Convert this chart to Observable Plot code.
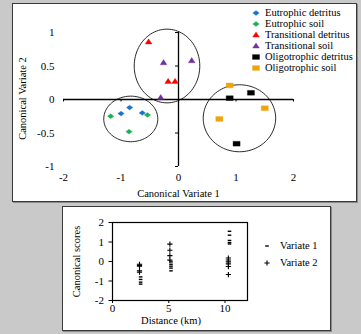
<!DOCTYPE html>
<html><head><meta charset="utf-8">
<script src="https://cdn.jsdelivr.net/npm/d3@7"></script>
<script src="https://cdn.jsdelivr.net/npm/@observablehq/plot@0.6"></script>
<style>
body{margin:0;background:#c9c9c9;}
#page{position:relative;width:361px;height:334px;background:#c9c9c9;overflow:hidden;font-family:"Liberation Serif","Times New Roman",serif;color:#000;}
.box{position:absolute;background:#fff;border:1px solid #3a3a3a;box-shadow:1px 1px 0 #8a8a8a;}
#top{left:12px;top:3px;width:343px;height:197px;}
#bot{left:62px;top:206px;width:267px;height:123px;}
.box svg{position:absolute;left:0;top:0;}
.box svg text{font-weight:normal;}
.leg{position:absolute;font-size:10.5px;line-height:12px;height:12px;white-space:nowrap;}
.leg svg{position:absolute;top:0;}
</style></head>
<body><div id="page">
<div class="box" id="top"></div>
<div class="box" id="bot"></div>
</div>
<script>
// ---------- Top panel data (canonical variates) ----------
const seriesNames = ["Eutrophic detritus","Eutrophic soil","Transitional detritus","Transitional soil","Oligotrophic detritus","Oligotrophic soil"];
const seriesColors = ["#1a72c8","#1aae55","#ff0000","#7030a0","#000000","#f0a30a"];
const seriesShapes = ["diamond","diamond","triangle","triangle","rect","rect"];
const eutDetX = [-0.85,-1.0,-0.63];   const eutDetY = [-0.12,-0.21,-0.20];
const eutSoilX = [-1.18,-0.54,-0.86]; const eutSoilY = [-0.25,-0.23,-0.48];
const traDetX = [-0.52,-0.18,-0.06];  const traDetY = [0.86,0.27,0.27];
const traSoilX = [-0.26,-0.31,0.23];  const traSoilY = [0.55,0.03,0.58];
const oliDetX = [0.89,1.26,1.01];     const oliDetY = [0.02,0.10,-0.66];
const oliSoilX = [0.89,1.50,0.71];    const oliSoilY = [0.21,-0.13,-0.29];
const seriesX = [eutDetX,eutSoilX,traDetX,traSoilX,oliDetX,oliSoilX];
const seriesY = [eutDetY,eutSoilY,traDetY,traSoilY,oliDetY,oliSoilY];
// group ellipses: centre and radii in data units
const ellCx = [-0.83,-0.20,1.06];
const ellCy = [-0.29,0.50,-0.28];
const ellRx = [0.47,0.57,0.63];
const ellRy = [0.34,0.55,0.50];
const topXTicks = [-2,-1,0,1,2];
const topYTicks = [-1,-0.5,0,0.5,1];

// ---------- Bottom panel data (scores vs distance) ----------
const v1Dist  = [2.5,2.5,2.5,2.5, 5.2,5.2,5.2,5.2,5.2, 10.4,10.4,10.4,10.4,10.4];
const v1Score = [-0.79,-0.92,-1.06,-1.16, -0.02,-0.14,-0.24,-0.34,-0.48, 1.55,1.35,1.08,0.97,0.90];
const v2Dist  = [2.4,2.4,2.4,2.4,2.4, 5.1,5.1,5.1,5.1, 10.3,10.3,10.3,10.3,10.3,10.3];
const v2Score = [-0.14,-0.20,-0.24,-0.48,-0.55, 0.89,0.58,0.30,0.07, 0.18,0.08,-0.02,-0.12,-0.26,-0.67];
const botXTicks = [0,5,10];
const botYTicks = [-2,-1,0,1,2];
const botLegend = ["Variate 1","Variate 2"];

// ---------- symbols ----------
const rOf = s => Math.sqrt(s/Math.PI);
const shapes = {
  diamond:{draw(c,s){const r=rOf(s);c.moveTo(0,-r*0.75);c.lineTo(r,0);c.lineTo(0,r*0.75);c.lineTo(-r,0);c.closePath();}},
  triangle:{draw(c,s){const r=rOf(s);c.moveTo(0,-r*0.95);c.lineTo(r*1.05,r*0.65);c.lineTo(-r*1.05,r*0.65);c.closePath();}},
  rect:{draw(c,s){const r=rOf(s);c.rect(-r*1.1,-r*0.75,r*2.2,r*1.5);}},
  dash:{draw(c,s){const r=rOf(s);c.moveTo(-r,0);c.lineTo(r,0);}},
  plus:{draw(c,s){const r=rOf(s);c.moveTo(-r,0);c.lineTo(r,0);c.moveTo(0,-r);c.lineTo(0,r);}}
};

const font = {fontFamily:"Liberation Serif, Times New Roman, serif", fontSize:"11px", background:"transparent", color:"#000", overflow:"visible"};

// ---------- top plot ----------
const ellPts = [];
ellCx.forEach((cx,k)=>{ for(let i=0;i<96;i++){const t=i/96*2*Math.PI; ellPts.push({id:k,x:cx+ellRx[k]*Math.cos(t),y:ellCy[k]+ellRy[k]*Math.sin(t)});} });

const topMarks = [
  Plot.line(ellPts,{x:"x",y:"y",z:"id",curve:"linear-closed",stroke:"#111",strokeWidth:0.9}),
  Plot.ruleY([0],{x1:-2,x2:2,stroke:"#000",strokeWidth:1.3}),
  Plot.ruleX([0],{y1:-1,y2:1,stroke:"#000",strokeWidth:1.3}),
  Plot.ruleY(topYTicks.filter(d=>d!==0),{y:d=>d,x1:0,x2:0,insetLeft:-3,stroke:"#000",strokeWidth:1}),
  Plot.ruleX(topXTicks.filter(d=>d!==0),{x:d=>d,y1:0,y2:0,insetBottom:-2.5,stroke:"#000",strokeWidth:1}),
  Plot.axisY({ticks:topYTicks,tickSize:0,tickPadding:9,tickFormat:d=>String(d),label:null}),
  Plot.axisX({ticks:topXTicks,tickSize:0,tickPadding:7,tickFormat:d=>String(d),label:null}),
  Plot.text(["Canonical Variate 1"],{frameAnchor:"bottom",dy:30,fontSize:10.5,fontWeight:"normal"}),
  Plot.text(["Canonical Variate 2"],{frameAnchor:"left",textAnchor:"middle",dx:-41,dy:-1,rotate:-90,fontSize:10.5,fontWeight:"normal"})
];
seriesNames.forEach((n,k)=>{
  const pts = seriesX[k].map((x,i)=>({x,y:seriesY[k][i]}));
  topMarks.push(Plot.dot(pts,{x:"x",y:"y",r:3.2,symbol:shapes[seriesShapes[k]],fill:seriesColors[k],stroke:seriesColors[k],strokeOpacity:0.35,strokeWidth:1}));
});
const topPlot = Plot.plot({
  width:343,height:197,marginLeft:50,marginRight:63,marginTop:28,marginBottom:35,
  x:{domain:[-2,2]}, y:{domain:[-1,1]}, style:font, marks:topMarks
});
document.getElementById("top").appendChild(topPlot);

// ---------- bottom plot ----------
const v1 = v1Dist.map((d,i)=>({d,s:v1Score[i]}));
const v2 = v2Dist.map((d,i)=>({d,s:v2Score[i]}));
const botPlot = Plot.plot({
  width:267,height:123,marginLeft:49,marginRight:83,marginTop:15,marginBottom:30,
  x:{domain:[0,12]}, y:{domain:[-2,2]}, style:font,
  marks:[
    Plot.frame({stroke:"#000",strokeWidth:1.2}),
    Plot.axisY({ticks:botYTicks,tickSize:3.5,tickPadding:5,tickFormat:d=>String(d),label:null}),
    Plot.axisX({ticks:botXTicks,tickSize:3,tickPadding:1,tickFormat:d=>String(d),label:null}),
    Plot.dot(v1,{x:"d",y:"s",r:1.8,symbol:shapes.dash,fill:"none",stroke:"#000",strokeWidth:1.4}),
    Plot.dot(v2,{x:"d",y:"s",r:2.6,symbol:shapes.plus,fill:"none",stroke:"#000",strokeWidth:1.1}),
    Plot.text(["Distance (km)"],{frameAnchor:"bottom",dx:-9,dy:23,fontSize:10.5,fontWeight:"normal"}),
    Plot.text(["Canonical scores"],{frameAnchor:"left",textAnchor:"middle",dx:-36,rotate:-90,fontSize:10.5,fontWeight:"normal"})
  ]
});
document.getElementById("bot").appendChild(botPlot);

// ---------- legends ----------
const page = document.getElementById("page");
function legendRow(cx, cy, textX, label, drawFn){
  const div = document.createElement("div");
  div.className="leg"; div.style.left=(cx-6)+"px"; div.style.top=(cy-6)+"px";
  const svg = d3.create("svg").attr("width",12).attr("height",12).style("left","0px");
  drawFn(svg);
  div.appendChild(svg.node());
  const sp = document.createElement("span");
  sp.textContent = label; sp.style.position="absolute"; sp.style.left=(textX-cx+6)+"px";
  div.appendChild(sp);
  page.appendChild(div);
}
seriesNames.forEach((n,k)=>{
  legendRow(256, 13+k*11, 265, n, svg=>{
    svg.append("path").attr("transform","translate(6,6)")
      .attr("d", d3.symbol(shapes[seriesShapes[k]], Math.PI*3.2*3.2)())
      .attr("fill",seriesColors[k]).attr("stroke",seriesColors[k]).attr("stroke-opacity",0.35);
  });
});
botLegend.forEach((n,k)=>{
  legendRow(267, 246+k*17, 280, n, svg=>{
    svg.append("path").attr("transform","translate(6,6)")
      .attr("d", d3.symbol(k===0?shapes.dash:shapes.plus, Math.PI*(k===0?1.8*1.8:2.6*2.6))())
      .attr("fill","none").attr("stroke","#000").attr("stroke-width",k===0?1.4:1.1);
  });
});
</script>
</body></html>
